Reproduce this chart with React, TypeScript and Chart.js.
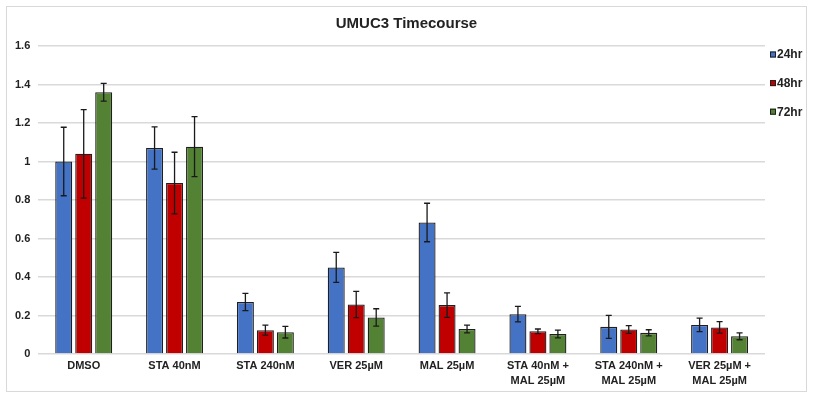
import React, { useEffect, useRef } from "react";
import { Chart, registerables } from "chart.js";

Chart.register(...registerables);

const titleText = "UMUC3 Timecourse";

const categories: (string | string[])[] = [
  "DMSO",
  "STA 40nM",
  "STA 240nM",
  "VER 25µM",
  "MAL 25µM",
  ["STA 40nM +", "MAL 25µM"],
  ["STA 240nM +", "MAL 25µM"],
  ["VER 25µM +", "MAL 25µM"],
];

const seriesNames = ["24hr", "48hr", "72hr"];
const seriesColors = ["#4472C4", "#C00000", "#548235"];

const values24 = [1.0, 1.07, 0.27, 0.45, 0.683, 0.207, 0.141, 0.151];
const values48 = [1.04, 0.888, 0.124, 0.257, 0.254, 0.118, 0.127, 0.138];
const values72 = [1.36, 1.077, 0.113, 0.19, 0.13, 0.104, 0.11, 0.092];

const err24 = [0.178, 0.11, 0.045, 0.078, 0.1, 0.04, 0.06, 0.035];
const err48 = [0.23, 0.16, 0.026, 0.068, 0.064, 0.012, 0.02, 0.03];
const err72 = [0.046, 0.156, 0.03, 0.045, 0.02, 0.02, 0.016, 0.018];

const allValues = [values24, values48, values72];
const allErrors = [err24, err48, err72];

const FONT = "'Liberation Sans', Arial, sans-serif";

const errorBarPlugin = {
  id: "errorBars",
  afterDatasetsDraw(chart: any) {
    const ctx = chart.ctx;
    const yScale = chart.scales.y;
    ctx.save();
    ctx.strokeStyle = "#1a1a1a";
    ctx.lineWidth = 1.3;
    chart.data.datasets.forEach((ds: any, di: number) => {
      const meta = chart.getDatasetMeta(di);
      if (meta.hidden) return;
      meta.data.forEach((bar: any, i: number) => {
        const v = ds.data[i];
        const e = ds.errors[i];
        const x = bar.x;
        const yTop = yScale.getPixelForValue(v + e);
        const yBot = yScale.getPixelForValue(v - e);
        ctx.beginPath();
        ctx.moveTo(x, yTop);
        ctx.lineTo(x, yBot);
        ctx.moveTo(x - 3, yTop);
        ctx.lineTo(x + 3, yTop);
        ctx.moveTo(x - 3, yBot);
        ctx.lineTo(x + 3, yBot);
        ctx.stroke();
      });
    });
    ctx.restore();
  },
};

const titleLegendPlugin = {
  id: "titleLegend",
  afterDraw(chart: any) {
    const ctx = chart.ctx;
    const area = chart.chartArea;
    ctx.save();
    // title, centred over the full canvas width
    ctx.font = `bold 15px ${FONT}`;
    ctx.fillStyle = "#222";
    ctx.textAlign = "center";
    ctx.textBaseline = "middle";
    ctx.fillText(titleText, chart.width / 2, 14);
    // legend
    ctx.font = `bold 12px ${FONT}`;
    ctx.textAlign = "left";
    seriesNames.forEach((name, i) => {
      const bx = area.right + 5;
      const cy = area.top + 8.5 + i * 28.6;
      ctx.fillStyle = seriesColors[i];
      ctx.fillRect(bx, cy - 3, 6, 6);
      ctx.strokeStyle = "#1f1f1f";
      ctx.lineWidth = 1;
      ctx.strokeRect(bx + 0.5, cy - 2.5, 5, 5);
      ctx.fillStyle = "#222";
      ctx.fillText(name, bx + 7, cy + 0.5);
    });
    ctx.restore();
  },
};

export default function App() {
  const canvasRef = useRef<HTMLCanvasElement>(null);

  useEffect(() => {
    if (!canvasRef.current) return;
    const chart = new Chart(canvasRef.current, {
      type: "bar",
      data: {
        labels: categories,
        datasets: seriesNames.map((name, i) => ({
          label: name,
          data: allValues[i],
          errors: allErrors[i],
          backgroundColor: seriesColors[i],
          borderColor: "#1f1f1f",
          borderWidth: 1.3,
          categoryPercentage: 0.66,
          barPercentage: 0.85,
        })) as any,
      },
      options: {
        animation: false,
        responsive: true,
        maintainAspectRatio: false,
        layout: { padding: { left: 0, right: 41, top: 36, bottom: 2 } },
        plugins: {
          title: { display: false },
          legend: { display: false },
          tooltip: { enabled: false },
        },
        scales: {
          x: {
            grid: { display: false, drawTicks: false },
            border: { display: false },
            ticks: {
              color: "#222",
              maxRotation: 0,
              autoSkip: false,
              padding: 4,
              font: { family: FONT, size: 11, weight: "bold", lineHeight: 15 / 11 },
            },
          },
          y: {
            min: 0,
            max: 1.6,
            ticks: {
              stepSize: 0.2,
              color: "#222",
              padding: 8,
              font: { family: FONT, size: 11, weight: "bold" },
              callback: (v: any) => String(Number(Number(v).toFixed(1))),
            },
            grid: { color: "#d9d9d9", lineWidth: 1.5, drawTicks: false },
            border: { display: false },
          },
        },
      },
      plugins: [errorBarPlugin, titleLegendPlugin],
    });
    return () => chart.destroy();
  }, []);

  return (
    <>
      <div
        style={{
          position: "absolute",
          left: 6,
          top: 6,
          width: 801,
          height: 386,
          border: "1px solid #d9d9d9",
          boxSizing: "border-box",
          background: "#fff",
        }}
      />
      <div
        style={{
          position: "absolute",
          left: 7,
          top: 10,
          width: 799,
          height: 384,
        }}
      >
        <canvas ref={canvasRef} />
      </div>
    </>
  );
}
